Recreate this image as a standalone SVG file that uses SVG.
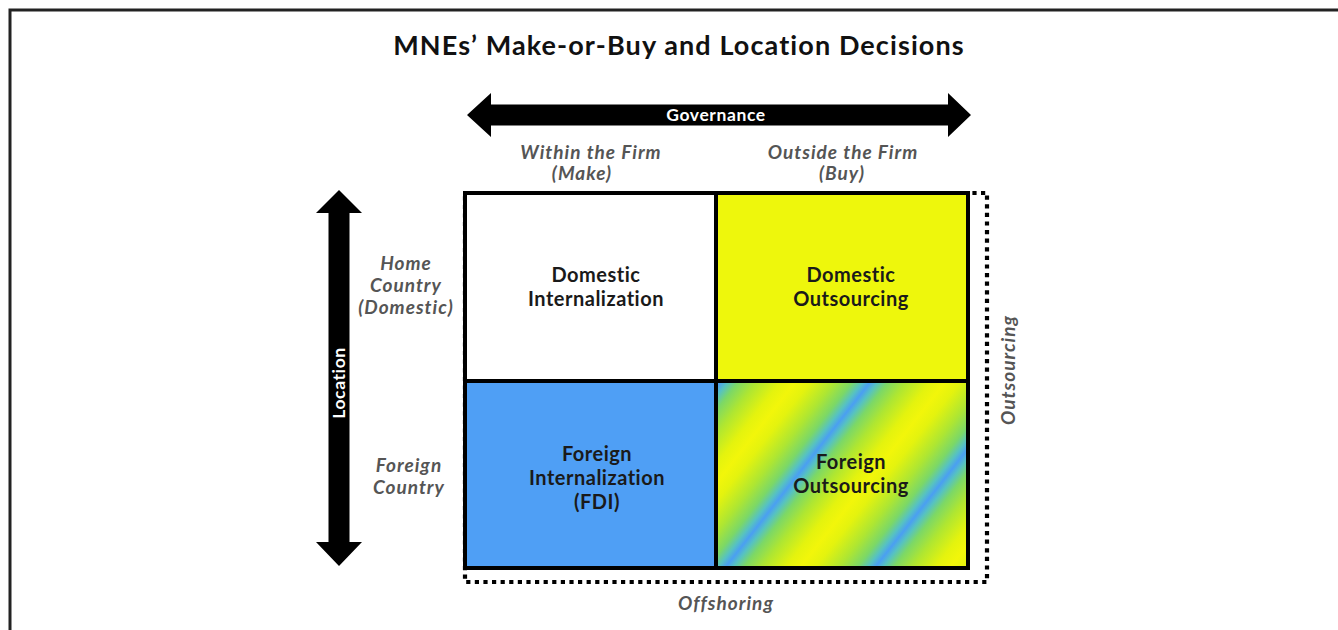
<svg xmlns="http://www.w3.org/2000/svg" width="1338" height="630" viewBox="0 0 1338 630">
<style>
text{font-family:Lato,"Noto Sans","Liberation Sans",sans-serif;}
.title{font-size:27px;font-weight:700;fill:#111;text-anchor:middle;letter-spacing:1.1px;}
.cell{font-size:20px;font-weight:700;fill:#1a1a1a;text-anchor:middle;letter-spacing:0.5px;}
.lab{font-size:19px;font-style:italic;font-weight:700;fill:#555;text-anchor:middle;letter-spacing:1px;}
.axis{font-size:17.5px;font-weight:700;fill:#fff;text-anchor:middle;letter-spacing:0.6px;}
.grid{stroke:#000;stroke-width:4;}
.dots{fill:none;stroke:#000;stroke-width:4.2;stroke-dasharray:4.2 4.4;}
</style>
<defs>
<linearGradient id="stripes" gradientUnits="userSpaceOnUse" x1="793" y1="385" x2="886" y2="457.7" spreadMethod="repeat">
<stop offset="0" stop-color="#f2f60a"/>
<stop offset="0.1" stop-color="#e4f30e"/>
<stop offset="0.26" stop-color="#aee632"/>
<stop offset="0.38" stop-color="#7cd866"/>
<stop offset="0.45" stop-color="#56c2c2"/>
<stop offset="0.5" stop-color="#4a9ff2"/>
<stop offset="0.55" stop-color="#56c2c2"/>
<stop offset="0.62" stop-color="#7cd866"/>
<stop offset="0.74" stop-color="#aee632"/>
<stop offset="0.9" stop-color="#e4f30e"/>
<stop offset="1" stop-color="#f2f60a"/>
</linearGradient>
</defs>
<rect x="0" y="0" width="1338" height="630" fill="#fff"/>
<rect x="10" y="10" width="1340" height="640" fill="none" stroke="#222" stroke-width="3"/>
<text class="title" x="679" y="55">MNEs’ Make-or-Buy and Location Decisions</text>

<g id="connectors">
<polygon id="governance-arrow" fill="#000" points="467,115 491,93 491,104.5 948,104.5 948,93 971,115 948,137 948,125.5 491,125.5 491,137"/>
<polygon id="location-arrow" fill="#000" points="339,190 362,213 349.5,213 349.5,542 362,542 339,566 316,542 328.5,542 328.5,213 316,213"/>
<rect id="outsourcing-offshoring-bracket" class="dots" x="465" y="193" width="522" height="389"/>
</g>
<text class="axis" x="716" y="121">Governance</text>
<text class="axis" transform="translate(345,383) rotate(-90)">Location</text>

<g id="labels">
<text class="lab" x="591" y="159">Within the Firm</text>
<text class="lab" x="582" y="180">(Make)</text>
<text class="lab" x="843" y="159">Outside the Firm</text>
<text class="lab" x="842" y="180">(Buy)</text>
<text class="lab" x="406" y="270">Home</text>
<text class="lab" x="406" y="292">Country</text>
<text class="lab" x="406" y="314">(Domestic)</text>
<text class="lab" x="409" y="472">Foreign</text>
<text class="lab" x="409" y="494">Country</text>
<text class="lab" x="726" y="610">Offshoring</text>
<text class="lab" transform="translate(1015,370) rotate(-90)">Outsourcing</text>
</g>

<g id="domestic-internalization">
<rect x="465" y="193" width="251" height="188" fill="#fff"/>
<text class="cell" x="596" y="282">Domestic</text>
<text class="cell" x="596" y="306">Internalization</text>
</g>
<g id="domestic-outsourcing">
<rect x="716" y="193" width="252" height="188" fill="#eef70c"/>
<text class="cell" x="851" y="282">Domestic</text>
<text class="cell" x="851" y="306">Outsourcing</text>
</g>
<g id="foreign-internalization">
<rect x="465" y="381" width="251" height="187" fill="#4f9ff5"/>
<text class="cell" x="597" y="461">Foreign</text>
<text class="cell" x="597" y="485">Internalization</text>
<text class="cell" x="597" y="509">(FDI)</text>
</g>
<g id="foreign-outsourcing">
<rect x="716" y="381" width="252" height="187" fill="url(#stripes)"/>
<text class="cell" x="851" y="469">Foreign</text>
<text class="cell" x="851" y="493">Outsourcing</text>
</g>
<g id="grid-lines" fill="none">
<rect class="grid" x="465" y="193" width="503" height="375"/>
<line class="grid" x1="716" y1="193" x2="716" y2="568"/>
<line class="grid" x1="465" y1="381" x2="968" y2="381"/>
</g>
</svg>
